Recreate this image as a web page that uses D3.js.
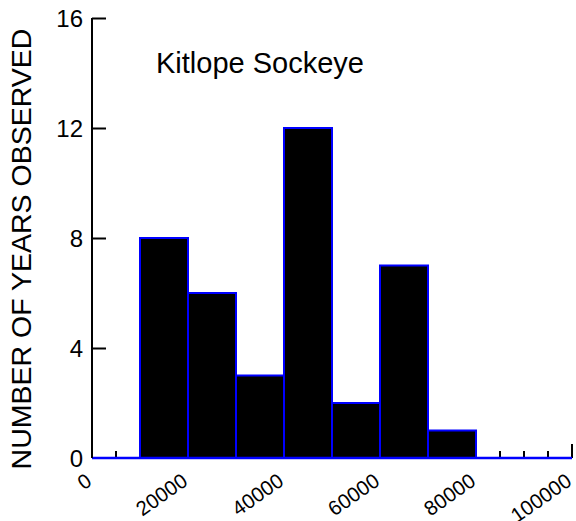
<!DOCTYPE html>
<html>
<head>
<meta charset="utf-8">
<script src="https://cdn.jsdelivr.net/npm/d3@7"></script>
<style>
  html, body { margin: 0; padding: 0; background: #fff; }
  svg { display: block; font-family: "Liberation Sans", Arial, sans-serif; }
</style>
</head>
<body>
<svg id="chart" width="576" height="521"></svg>
<script>
// Histogram of annual Kitlope sockeye escapement counts
const binStarts = [0, 10000, 20000, 30000, 40000, 50000, 60000, 70000, 80000, 90000];
const binWidth = 10000;
const yearCounts = [0, 8, 6, 3, 12, 2, 7, 1, 0, 0];
const xTickLabels = [0, 20000, 40000, 60000, 80000, 100000];
const yTickLabels = [0, 4, 8, 12, 16];
const chartTitle = "Kitlope Sockeye";
const yAxisTitle = "NUMBER OF YEARS OBSERVED";

const svg = d3.select("#chart");
const plotLeft = 92, plotRight = 572, plotTop = 18, plotBottom = 458;

const x = d3.scaleLinear().domain([0, 100000]).range([plotLeft, plotRight]);
const y = d3.scaleLinear().domain([0, 16]).range([plotBottom, plotTop]);

// minor/major tick marks along the baseline, pointing up into the plot
const xMinor = d3.range(5000, 100001, 5000);
svg.append("g").selectAll("line").data(xMinor).join("line")
  .attr("x1", d => x(d)).attr("x2", d => x(d))
  .attr("y1", plotBottom)
  .attr("y2", d => plotBottom - (d % 20000 === 0 ? 14 : 7))
  .attr("stroke", "#000").attr("stroke-width", 2);

// bars
const bins = binStarts.map((s, i) => ({ x0: s, x1: s + binWidth, n: yearCounts[i] }));
svg.append("g").selectAll("rect").data(bins.filter(b => b.n > 0)).join("rect")
  .attr("x", d => x(d.x0))
  .attr("y", d => y(d.n))
  .attr("width", d => x(d.x1) - x(d.x0))
  .attr("height", d => y(0) - y(d.n))
  .attr("fill", "#000")
  .attr("stroke", "#0000ff")
  .attr("stroke-width", 2);

// baseline
svg.append("line")
  .attr("x1", x(0)).attr("x2", x(100000))
  .attr("y1", y(0)).attr("y2", y(0))
  .attr("stroke", "#0000ff").attr("stroke-width", 2.5);

// y axis
const yAxis = d3.axisRight(y).tickValues(yTickLabels).tickSize(14).tickFormat("");
const gy = svg.append("g").attr("transform", `translate(${plotLeft},0)`).call(yAxis);
gy.select(".domain").attr("d", `M0,${plotTop}V${plotBottom}`).attr("stroke", "#000").attr("stroke-width", 2);
gy.selectAll(".tick line").attr("stroke", "#000").attr("stroke-width", 2);
gy.selectAll(".tick").filter(d => d === 0).remove();

svg.append("g").selectAll("text").data(yTickLabels).join("text")
  .attr("x", plotLeft - 9)
  .attr("y", d => y(d))
  .attr("dy", "0.36em")
  .attr("text-anchor", "end")
  .attr("font-size", 24)
  .attr("fill", "#000")
  .text(d => d);

// x tick labels, slanted
svg.append("g").selectAll("text").data(xTickLabels).join("text")
  .attr("transform", d => `translate(${x(d) + 1},${plotBottom + 26}) rotate(-35)`)
  .attr("text-anchor", "end")
  .attr("font-size", 20.5)
  .attr("fill", "#000")
  .text(d => d);

// titles
svg.append("text")
  .attr("x", 156).attr("y", 73)
  .attr("font-size", 29)
  .attr("fill", "#000")
  .text(chartTitle);

svg.append("text")
  .attr("transform", `translate(31,249) rotate(-90)`)
  .attr("text-anchor", "middle")
  .attr("font-size", 28.5)
  .attr("fill", "#000")
  .text(yAxisTitle);
</script>
</body>
</html>
